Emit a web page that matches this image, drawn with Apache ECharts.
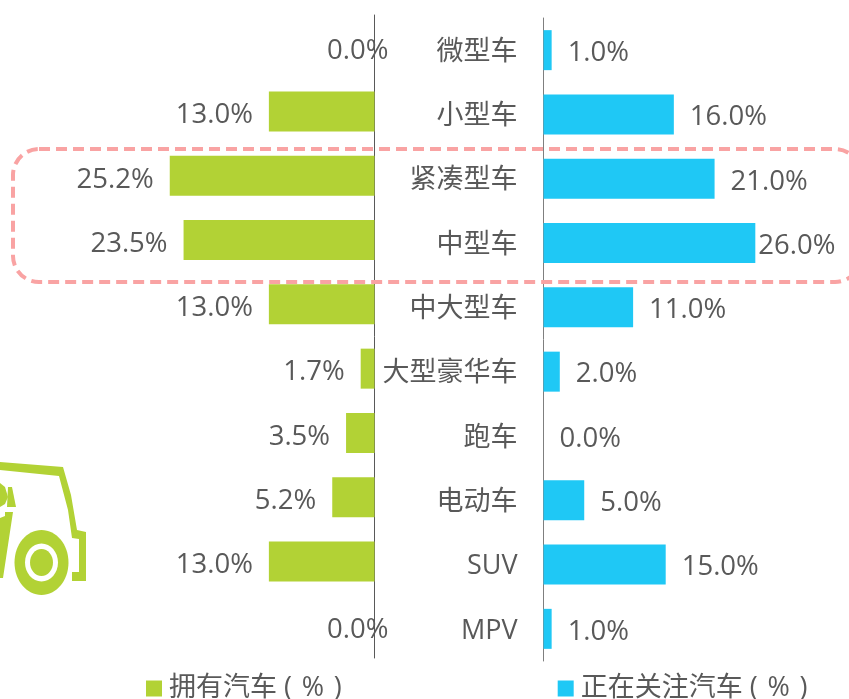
<!DOCTYPE html>
<html>
<head>
<meta charset="utf-8">
<style>
  html, body { margin: 0; padding: 0; background: #fff; }
  #chart { width: 849px; height: 699px; }
</style>
<script src="https://cdn.jsdelivr.net/npm/echarts@6/dist/echarts.min.js"></script>
</head>
<body>
<div id="chart"></div>
<script>
const categories = ["微型车", "小型车", "紧凑型车", "中型车", "中大型车", "大型豪华车", "跑车", "电动车", "SUV", "MPV"];
const owned = [0, 13, 25.2, 23.5, 13, 1.7, 3.5, 5.2, 13, 0];
const watching = [1, 16, 21, 26, 11, 2, 0, 5, 15, 1];
const ownedName = "拥有汽车 (\u200A % \u200A)";
const watchingName = "正在关注汽车 (\u200A % \u200A)";

const GREEN = "#b2d235";
const BLUE = "#1fc8f5";
const TEXT = "#595959";
const FONT = '"Open Sans", "Noto Sans CJK SC", sans-serif';

function pct(params) {
  return params.value.toFixed(1) + "%";
}

function greenShape(points) {
  return { type: "polygon", silent: true, shape: { points }, style: { fill: GREEN } };
}

function wheelPart(rx, ry, fill) {
  return { type: "ellipse", silent: true, shape: { cx: 41.5, cy: 562.5, rx, ry }, style: { fill } };
}

const option = {
  animation: false,
  backgroundColor: "#fff",
  legend: {
    left: 146,
    top: 675,
    padding: 0,
    itemGap: 216,
    itemWidth: 16,
    itemHeight: 16,
    icon: "rect",
    textStyle: { color: TEXT, fontSize: 27, fontFamily: FONT, padding: [6, 0, 0, 2] },
    data: [ownedName, watchingName],
  },
  grid: [
    { left: 49.5, top: 15, width: 325, height: 643 },
    { left: 543.5, top: 18, width: 305.5, height: 643 },
  ],
  xAxis: [
    { type: "value", gridIndex: 0, inverse: true, min: 0, max: 40, show: false },
    { type: "value", gridIndex: 1, min: 0, max: 37.5, show: false },
  ],
  yAxis: [
    {
      type: "category",
      gridIndex: 0,
      inverse: true,
      position: "right",
      data: categories,
      axisTick: { show: false },
      axisLabel: { show: false },
      axisLine: { lineStyle: { color: "#595959", width: 1 } },
    },
    {
      type: "category",
      gridIndex: 1,
      inverse: true,
      data: categories,
      axisTick: { show: false },
      axisLine: { lineStyle: { color: "#7f7f7f", width: 1 } },
      // small top-aligned line box drops the text a few px below the row centre
      axisLabel: { color: TEXT, fontSize: 27, margin: 26, fontFamily: FONT, verticalAlign: "top", lineHeight: 4 },
    },
  ],
  series: [
    {
      name: ownedName,
      type: "bar",
      xAxisIndex: 0,
      yAxisIndex: 0,
      barWidth: 40,
      itemStyle: { color: GREEN },
      data: owned.map((v) => ({
        value: v,
        // the zero labels sit across the axis line
        label: v === 0 ? { offset: [30, 4] } : undefined,
      })),
      label: {
        show: true,
        position: "left",
        distance: 16,
        offset: [0, 4],
        color: TEXT,
        fontSize: 27.5,
        fontFamily: FONT,
        formatter: pct,
      },
    },
    {
      name: watchingName,
      type: "bar",
      xAxisIndex: 1,
      yAxisIndex: 1,
      barWidth: 40,
      itemStyle: { color: BLUE },
      data: watching.map((v) => ({
        value: v,
        // the longest bar has its label pulled in close
        label: v === Math.max(...watching) ? { distance: 3 } : undefined,
      })),
      label: {
        show: true,
        position: "right",
        distance: 16,
        offset: [0, 3],
        color: TEXT,
        fontSize: 27.5,
        fontFamily: FONT,
        formatter: pct,
      },
    },
  ],
  graphic: [
    {
      type: "rect",
      silent: true,
      z: 10,
      shape: { x: 13, y: 149, width: 848, height: 133, r: 26 },
      style: { fill: "none", stroke: "#f9a3a3", lineWidth: 4, lineDash: [11, 6] },
    },
    // car picture, cut off by the left edge
    greenShape([[0, 462], [63, 467], [71, 495], [77, 530], [86, 532], [86, 581], [72, 581], [72, 572], [79, 572], [79, 539], [72, 538], [68, 510], [59, 476], [0, 470]]),
    greenShape([[7, 507], [16, 507], [12, 487], [8, 487]]),
    greenShape([[0, 483], [5, 487], [8, 497], [5, 504], [0, 507]]),
    greenShape([[5, 512], [13, 512], [3, 578], [0, 578], [0, 518], [5, 516]]),
    wheelPart(27, 32.5, GREEN),
    wheelPart(16.5, 19, "#fff"),
    wheelPart(11.5, 13.5, GREEN),
  ],
};

const chart = echarts.init(document.getElementById("chart"), null, { renderer: "canvas" });
chart.setOption(option);
</script>
</body>
</html>
